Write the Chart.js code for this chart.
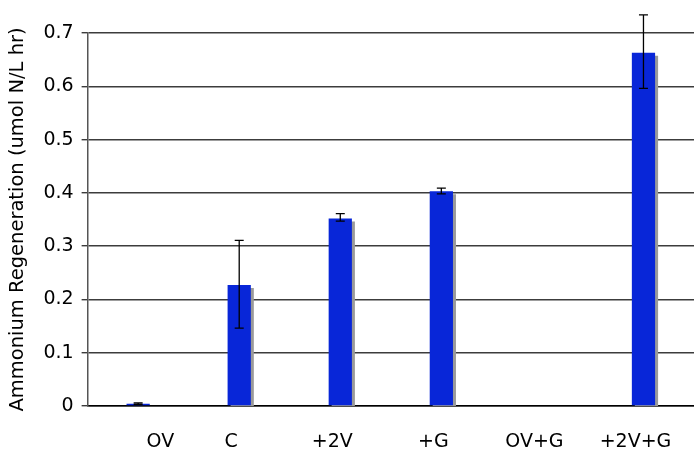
<!DOCTYPE html>
<html>
<head>
<meta charset="utf-8">
<script src="https://cdn.jsdelivr.net/npm/chart.js@4/dist/chart.umd.min.js"></script>
<style>
  html, body { margin: 0; padding: 0; background: #fff; }
  #wrap { width: 694px; height: 456px; }
</style>
</head>
<body>
<div id="wrap"><canvas id="regenGraph"></canvas></div>
<script>
const categories = ['OV', 'C', '+2V', '+G', 'OV+G', '+2V+G'];
const regeneration = [0.004, 0.227, 0.352, 0.403, 0, 0.663];
const errLow = [0.003, 0.146, 0.347, 0.398, 0, 0.596];
const errHigh = [0.006, 0.311, 0.361, 0.409, 0, 0.734];
const yTicks = [0, 0.1, 0.2, 0.3, 0.4, 0.5, 0.6, 0.7];

const shadowPlugin = {
    id: 'barShadow',
    beforeDatasetsDraw(chart) {
        const ctx = chart.ctx;
        ctx.save();
        ctx.shadowColor = '#9a9a9a';
        ctx.shadowOffsetX = 3;
        ctx.shadowOffsetY = 3;
        ctx.shadowBlur = 0;
    },
    afterDatasetsDraw(chart) {
        const ctx = chart.ctx;
        ctx.restore();
        // error bars
        const meta = chart.getDatasetMeta(0);
        const y = chart.scales.y;
        ctx.save();
        ctx.strokeStyle = '#000';
        ctx.lineWidth = 1.3;
        meta.data.forEach((bar, i) => {
            if (errHigh[i] === errLow[i]) return;
            const yl = y.getPixelForValue(errLow[i]);
            const yh = y.getPixelForValue(errHigh[i]);
            const x = bar.x;
            ctx.beginPath();
            ctx.moveTo(x, yl); ctx.lineTo(x, yh);
            ctx.moveTo(x - 4.5, yl); ctx.lineTo(x + 4.5, yl);
            ctx.moveTo(x - 4.5, yh); ctx.lineTo(x + 4.5, yh);
            ctx.stroke();
        });
        ctx.restore();
    }
};

new Chart(document.getElementById('regenGraph'), {
    type: 'bar',
    data: {
        labels: categories,
        datasets: [
            {
                data: regeneration,
                backgroundColor: '#0826D8',
                borderWidth: 0,
                barPercentage: 0.23,
                categoryPercentage: 1
            }
        ]
    },
    options: {
        responsive: true,
        maintainAspectRatio: false,
        animation: false,
        layout: { padding: { top: 33, right: 0, bottom: 0, left: 6 } },
        plugins: {
            legend: { display: false },
            tooltip: { enabled: false }
        },
        scales: {
            x: {
                grid: { display: false },
                border: { display: true, color: '#000', width: 1.5 },
                ticks: {
                    color: '#000',
                    font: { family: 'DejaVu Sans', size: 19 },
                    padding: 17,
                    labelOffset: -8,
                    maxRotation: 0,
                    // the first label sits right of its bar in the original
                    callback: function (v, i) {
                        const s = this.getLabelForValue(v);
                        return i === 0 ? '          ' + s : s;
                    }
                },
                afterFit(axis) {
                    axis.height = 50;
                    axis.paddingLeft = 0;
                    axis.paddingRight = 0;
                }
            },
            y: {
                min: 0,
                max: 0.7,
                afterBuildTicks(axis) {
                    axis.ticks = yTicks.map(v => ({ value: v }));
                },
                grid: {
                    color: '#3c3c3c',
                    lineWidth: 1.4,
                    tickLength: 6
                },
                border: { display: true, color: '#555', width: 1.5 },
                ticks: {
                    color: '#000',
                    font: { family: 'DejaVu Sans', size: 19 },
                    padding: 8,
                    callback: v => String(v)
                },
                title: {
                    display: true,
                    text: 'Ammonium Regeneration (umol N/L hr)',
                    color: '#000',
                    font: { family: 'DejaVu Sans', size: 19.5 },
                    padding: { top: 0, bottom: 6 }
                }
            }
        }
    },
    plugins: [shadowPlugin]
});
</script>
</body>
</html>
